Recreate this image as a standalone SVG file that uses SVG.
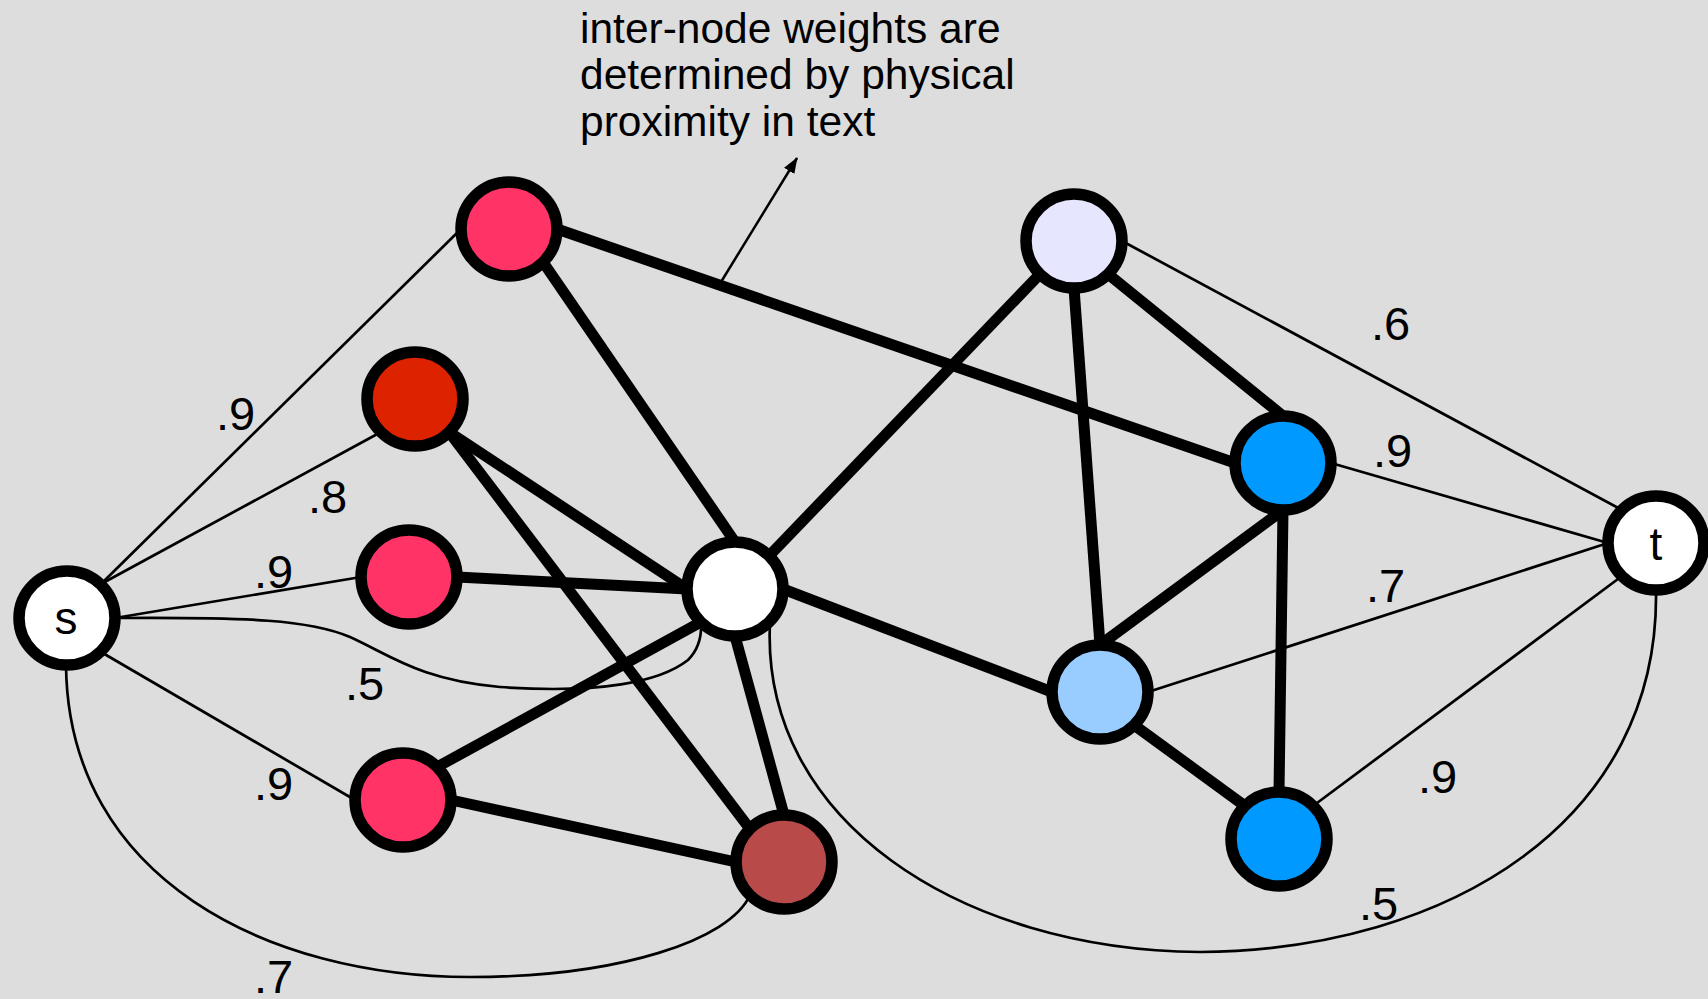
<svg xmlns="http://www.w3.org/2000/svg" width="1708" height="999" viewBox="0 0 1708 999">
  <defs>
    <style>
      .bg { fill: #DDDDDD; }
      .heavy { stroke: #000; stroke-width: 11; fill: none; stroke-linecap: butt; }
      .light { stroke: #000; stroke-width: 2.7; fill: none; }
      .node { stroke: #000; stroke-width: 11.5; }
      .lbl { font-family: "Liberation Sans", Arial, sans-serif; font-size: 47px; fill: #000; }
      .note { font-family: "Liberation Sans", Arial, sans-serif; font-size: 42.5px; fill: #000; }
      .name { font-family: "Liberation Sans", Arial, sans-serif; font-size: 46px; fill: #000; text-anchor: middle; }
    </style>
    <marker id="tip" viewBox="0 0 16 12" refX="15" refY="6" markerWidth="16" markerHeight="12" markerUnits="userSpaceOnUse" orient="auto">
      <path d="M0,0 L16,6 L0,12 z" fill="#000"/>
    </marker>
  </defs>

  <rect class="bg" x="0" y="0" width="1708" height="999"/>

  <!-- edges, attached to the nodes' side / corner ports -->
  <g id="connectors">
    <!-- weighted links to the source s -->
    <line class="light" x1="101" y1="584" x2="461" y2="229"/>
    <line class="light" x1="101" y1="584" x2="381" y2="432"/>
    <line class="light" x1="115" y1="618" x2="361" y2="577"/>
    <line class="light" x1="101" y1="652" x2="355" y2="800"/>
    <path class="light" d="M 115 618 C 250 617, 310 620, 350 637 C 390 655, 420 680, 500 687 C 600 694, 660 682, 688 660 C 698 650, 702 638, 701 622"/>
    <path class="light" d="M 66 665 C 68 880, 270 977, 470 977 C 620 977, 730 940, 750 895"/>

    <!-- weighted links to the sink t -->
    <line class="light" x1="1122" y1="241" x2="1622" y2="510"/>
    <line class="light" x1="1331" y1="463" x2="1608" y2="543"/>
    <line class="light" x1="1148" y1="692" x2="1608" y2="543"/>
    <line class="light" x1="1313" y1="806" x2="1622" y2="576"/>
    <path class="light" d="M 770 622 C 760 820, 960 950, 1200 952 C 1450 950, 1660 820, 1656 590"/>

    <!-- heavy inter-node links -->
    <line class="heavy" x1="543" y1="262" x2="735" y2="542"/>
    <line class="heavy" x1="557" y1="229" x2="1235" y2="463"/>
    <line class="heavy" x1="449" y1="432" x2="687" y2="589"/>
    <line class="heavy" x1="449" y1="432" x2="750" y2="829"/>
    <line class="heavy" x1="457" y1="577" x2="687" y2="589"/>
    <line class="heavy" x1="437" y1="767" x2="701" y2="622"/>
    <line class="heavy" x1="451" y1="800" x2="736" y2="862"/>
    <line class="heavy" x1="735" y1="636" x2="784" y2="815"/>
    <line class="heavy" x1="769" y1="556" x2="1040" y2="274"/>
    <line class="heavy" x1="783" y1="589" x2="1052" y2="692"/>
    <line class="heavy" x1="1074" y1="288" x2="1100" y2="645"/>
    <line class="heavy" x1="1108" y1="274" x2="1283" y2="416"/>
    <line class="heavy" x1="1283" y1="510" x2="1100" y2="645"/>
    <line class="heavy" x1="1283" y1="510" x2="1279" y2="792"/>
    <line class="heavy" x1="1134" y1="725" x2="1245" y2="806"/>

    <!-- annotation pointer -->
    <line x1="721" y1="282" x2="797" y2="158" stroke="#000" stroke-width="2.5" marker-end="url(#tip)"/>
  </g>

  <!-- edge weights -->
  <g id="weights">
    <text class="lbl" x="216" y="430">.9</text>
    <text class="lbl" x="308" y="513">.8</text>
    <text class="lbl" x="254" y="588">.9</text>
    <text class="lbl" x="345" y="700">.5</text>
    <text class="lbl" x="254" y="800">.9</text>
    <text class="lbl" x="254" y="993">.7</text>
    <text class="lbl" x="1371" y="340">.6</text>
    <text class="lbl" x="1373" y="467">.9</text>
    <text class="lbl" x="1366" y="602">.7</text>
    <text class="lbl" x="1418" y="793">.9</text>
    <text class="lbl" x="1359" y="920">.5</text>
  </g>

  <!-- nodes -->
  <g id="node-s"><ellipse class="node" cx="67" cy="618" rx="48" ry="47" fill="#FFFFFF"/><text class="name" x="66" y="634">s</text></g>
  <g id="node-pink-top"><ellipse class="node" cx="509" cy="229" rx="48" ry="47" fill="#FF3366"/></g>
  <g id="node-darkred"><ellipse class="node" cx="415" cy="399" rx="48" ry="47" fill="#DD2200"/></g>
  <g id="node-pink-mid"><ellipse class="node" cx="409" cy="577" rx="48" ry="47" fill="#FF3366"/></g>
  <g id="node-pink-low"><ellipse class="node" cx="403" cy="800" rx="48" ry="47" fill="#FF3366"/></g>
  <g id="node-center"><ellipse class="node" cx="735" cy="589" rx="48" ry="47" fill="#FFFFFF"/></g>
  <g id="node-brown"><ellipse class="node" cx="784" cy="862" rx="48" ry="47" fill="#B84A4A"/></g>
  <g id="node-lavender"><ellipse class="node" cx="1074" cy="241" rx="48" ry="47" fill="#E6E6FF"/></g>
  <g id="node-blue-top"><ellipse class="node" cx="1283" cy="463" rx="48" ry="47" fill="#0099FF"/></g>
  <g id="node-lightblue"><ellipse class="node" cx="1100" cy="692" rx="48" ry="47" fill="#99CCFF"/></g>
  <g id="node-blue-low"><ellipse class="node" cx="1279" cy="839" rx="48" ry="47" fill="#0099FF"/></g>
  <g id="node-t"><ellipse class="node" cx="1656" cy="543" rx="48" ry="47" fill="#FFFFFF"/><text class="name" x="1656" y="560">t</text></g>

  <!-- note -->
  <g id="note">
    <text class="note" x="580" y="43">inter-node weights are</text>
    <text class="note" x="580" y="89">determined by physical</text>
    <text class="note" x="580" y="136">proximity in text</text>
  </g>
</svg>
